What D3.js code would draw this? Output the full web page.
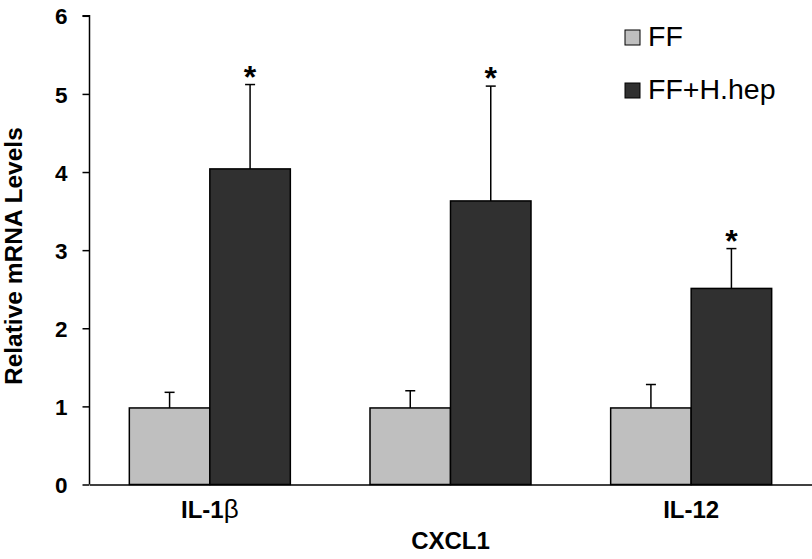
<!DOCTYPE html>
<html>
<head>
<meta charset="utf-8">
<script src="https://cdn.jsdelivr.net/npm/d3@7"></script>
<style>
  html, body { margin: 0; padding: 0; background: #fff; }
  svg { display: block; font-family: "Liberation Sans", Arial, sans-serif; }
</style>
</head>
<body>
<svg id="chart" width="812" height="559"></svg>
<script>
// ---- data ----
const categories = ["IL-1β", "CXCL1", "IL-12"];
const seriesNames = ["FF", "FF+H.hep"];
const ffValues = [0.98, 0.98, 0.98];
const ffErrors = [0.20, 0.22, 0.30];
const hhepValues = [4.04, 3.63, 2.51];
const hhepErrors = [1.08, 1.47, 0.51];
const significant = [true, true, true];
const yTicks = [0, 1, 2, 3, 4, 5, 6];
const seriesColors = ["#bfbfbf", "#303030"];

const svg = d3.select("#chart");
const x0 = d3.scaleBand().domain(categories).range([89.5, 811.5])
  .paddingInner(0.331).paddingOuter(0.1655);
const x1 = d3.scaleBand().domain(seriesNames).range([0, x0.bandwidth()]);
const y = d3.scaleLinear().domain([0, 6]).range([484.5, 15.8]);

const rows = categories.map((c, i) => ({
  cat: c, i,
  bars: [
    { s: seriesNames[0], v: ffValues[i], e: ffErrors[i], sig: false, color: seriesColors[0] },
    { s: seriesNames[1], v: hhepValues[i], e: hhepErrors[i], sig: significant[i], color: seriesColors[1] }
  ]
}));

const g = svg.append("g");
const groups = g.selectAll("g.grp").data(rows).join("g")
  .attr("transform", d => `translate(${x0(d.cat)},0)`);

// error bars
groups.selectAll("g.err").data(d => d.bars).join("g").each(function(b) {
  const cx = x1(b.s) + x1.bandwidth() / 2;
  const sel = d3.select(this);
  sel.append("line").attr("x1", cx).attr("x2", cx)
    .attr("y1", y(b.v)).attr("y2", y(b.v + b.e))
    .attr("stroke", "#000").attr("stroke-width", 1.5);
  sel.append("line").attr("x1", cx - 5).attr("x2", cx + 5)
    .attr("y1", y(b.v + b.e)).attr("y2", y(b.v + b.e))
    .attr("stroke", "#000").attr("stroke-width", 1.5);
  if (b.sig) {
    sel.append("text").attr("x", cx).attr("y", y(b.v + b.e) + 3)
      .attr("text-anchor", "middle").attr("font-size", 32).attr("font-weight", "bold")
      .text("*");
  }
});

groups.selectAll("rect").data(d => d.bars).join("rect")
  .attr("x", b => x1(b.s))
  .attr("width", x1.bandwidth())
  .attr("y", b => y(b.v))
  .attr("height", b => y(0) - y(b.v))
  .attr("fill", b => b.color)
  .attr("stroke", "#000").attr("stroke-width", 1.5);

// y axis
const yAxis = svg.append("g").attr("transform", "translate(89.5,0)")
  .call(d3.axisLeft(y).tickValues(yTicks).tickSize(7).tickPadding(15).tickFormat(d3.format("d")));
yAxis.select(".domain").attr("stroke", "#000").attr("stroke-width", 1.5).attr("d", `M-7,${y(6)}H0V${y(0)}`);
yAxis.selectAll(".tick line").attr("stroke", "#000").attr("stroke-width", 1.5);
yAxis.selectAll(".tick text").attr("font-size", 22.5).attr("font-weight", "bold")
  .attr("fill", "#000").attr("font-family", "Liberation Sans, Arial, sans-serif")
  .attr("dy", "0.36em");

// x axis
const xAxis = svg.append("g").attr("transform", `translate(0,${y(0)})`)
  .call(d3.axisBottom(x0).tickSize(0).tickPadding(0));
xAxis.select(".domain").attr("stroke", "#000").attr("stroke-width", 1.5);
xAxis.selectAll(".tick text")
  .attr("font-size", 24).attr("font-weight", "bold").attr("fill", "#000")
  .attr("font-family", "Liberation Sans, Arial, sans-serif")
  .attr("dy", null)
  .attr("y", (d, i) => i % 2 === 1 ? 64 : 33)
  .each(function(d) {
    const t = d3.select(this);
    const k = d.indexOf("β");
    if (k >= 0) {
      t.text(null);
      t.append("tspan").text(d.slice(0, k));
      t.append("tspan").attr("font-weight", "normal").attr("font-size", 26).text(d.slice(k));
    }
  });

// y axis title
svg.append("text")
  .attr("transform", `translate(22,${(y(0) + y(6)) / 2 + 6}) rotate(-90)`)
  .attr("text-anchor", "middle").attr("font-size", 24.5).attr("font-weight", "bold")
  .text("Relative mRNA Levels");

// legend
const legend = svg.append("g").attr("transform", "translate(625,30)");
seriesNames.forEach((s, i) => {
  const row = legend.append("g").attr("transform", `translate(0,${i * 53})`);
  row.append("rect").attr("width", 15).attr("height", 15)
    .attr("fill", seriesColors[i]).attr("stroke", "#000").attr("stroke-width", 1);
  row.append("text").attr("x", 23).attr("y", 16).attr("font-size", 28.5).text(s);
});
</script>
</body>
</html>
